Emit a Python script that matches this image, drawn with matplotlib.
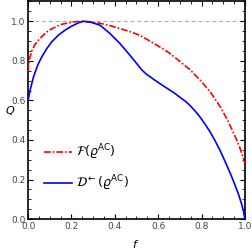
import matplotlib
matplotlib.use("Agg")
import matplotlib.pyplot as plt
from matplotlib.ticker import MultipleLocator

# Data
f_D = [0.0, 0.01, 0.025, 0.045, 0.063, 0.085, 0.109, 0.14, 0.17, 0.20, 0.232, 0.255, 0.29,
       0.332, 0.378, 0.424, 0.47, 0.501, 0.524, 0.545, 0.562, 0.585, 0.608, 0.63, 0.654,
       0.68, 0.70, 0.725, 0.747, 0.77, 0.793, 0.815, 0.84, 0.862, 0.885, 0.905, 0.92,
       0.935, 0.946, 0.958, 0.968, 0.978, 0.985, 0.993, 1.0]
Q_D = [0.60, 0.655, 0.719, 0.78, 0.82, 0.86, 0.896, 0.93, 0.955, 0.975, 0.992, 1.0, 0.995,
       0.98, 0.938, 0.887, 0.828, 0.786, 0.755, 0.733, 0.72, 0.702, 0.685, 0.669, 0.652,
       0.633, 0.616, 0.596, 0.574, 0.547, 0.516, 0.482, 0.44, 0.397, 0.348, 0.3, 0.263,
       0.225, 0.195, 0.162, 0.133, 0.1, 0.075, 0.042, 0.0]
f_F = [0.0, 0.004, 0.017, 0.03, 0.047, 0.07, 0.094, 0.12, 0.155, 0.217, 0.25, 0.29, 0.332,
       0.378, 0.424, 0.47, 0.516, 0.562, 0.608, 0.654, 0.70, 0.747, 0.793, 0.84, 0.885,
       0.92, 0.954, 0.975, 0.99, 1.0]
Q_F = [0.744, 0.80, 0.85, 0.88, 0.904, 0.93, 0.953, 0.968, 0.985, 0.998, 1.0, 0.997, 0.99,
       0.978, 0.963, 0.948, 0.929, 0.9, 0.87, 0.838, 0.797, 0.755, 0.703, 0.643, 0.57,
       0.5, 0.42, 0.365, 0.318, 0.28]
x_ticks = [0.0, 0.2, 0.4, 0.6, 0.8, 1.0]
y_ticks = [0.0, 0.2, 0.4, 0.6, 0.8, 1.0]

fig = plt.figure(figsize=(2.53, 2.49), dpi=100)
ax = fig.add_axes([0.111, 0.120, 0.857, 0.874])

ax.axhline(1.0, color="#aaaaaa", lw=0.7, ls=(0, (4, 3)), zorder=1)
ax.plot(f_F, Q_F, color="red", lw=1.2, ls=(0, (4, 1.2, 1, 1.2)),
        label=r"$\mathcal{F}(\varrho^{\mathrm{AC}})$", zorder=3)
ax.plot(f_D, Q_D, color="blue", lw=1.2,
        label=r"$\mathcal{D}^{\leftarrow}(\varrho^{\mathrm{AC}})$", zorder=3)

ax.set_xlim(0, 1.0)
ax.set_ylim(0, 1.1)
ax.set_xticks(x_ticks)
ax.set_yticks(y_ticks)
ax.set_xticklabels([f"{v:.1f}" for v in x_ticks])
ax.set_yticklabels([f"{v:.1f}" for v in y_ticks])
ax.xaxis.set_minor_locator(MultipleLocator(0.05))
ax.yaxis.set_minor_locator(MultipleLocator(0.05))
ax.tick_params(which="both", direction="in", top=True, right=True, labelsize=6.5, colors="black",
               labelcolor="#444444", pad=2)
ax.tick_params(which="major", length=3.5, width=0.8)
ax.tick_params(which="minor", length=2, width=0.6)
for s in ax.spines.values():
    s.set_linewidth(1.2)

ax.set_xlabel(r"$f$", fontsize=8)
ax.xaxis.set_label_coords(0.495, -0.085)
ax.set_ylabel(r"$Q$", fontsize=8, rotation=0, va="center", ha="center")
ax.yaxis.set_label_coords(-0.083, 0.50)

leg = ax.legend(loc="upper left", bbox_to_anchor=(0.02, 0.405), frameon=False, fontsize=9,
                handlelength=2.3, handletextpad=0.3, labelspacing=0.95)

fig.savefig("out.png", dpi=100)
